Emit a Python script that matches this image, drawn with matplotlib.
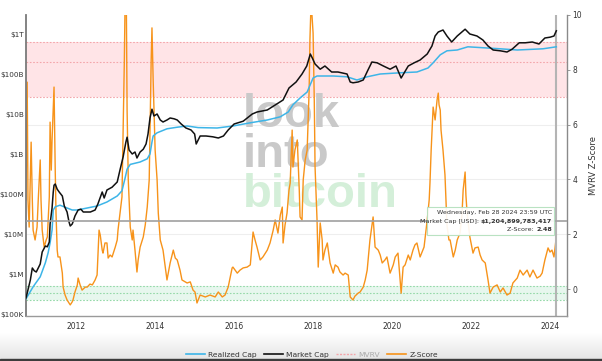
import numpy as np
import matplotlib
matplotlib.use("Agg")
import matplotlib.pyplot as plt
from matplotlib.patches import FancyBboxPatch, Rectangle
from matplotlib.lines import Line2D

# ---------------- data ----------------
market_cap_year = [2010.73, 2010.78, 2010.84, 2010.89, 2010.94, 2010.99, 2011.04, 2011.09, 2011.14, 2011.22,
                   2011.27, 2011.32, 2011.34, 2011.39, 2011.42, 2011.44, 2011.47, 2011.52, 2011.57, 2011.65,
                   2011.70, 2011.77, 2011.82, 2011.85, 2011.90, 2011.92, 2011.97, 2012.05, 2012.12, 2012.18,
                   2012.28, 2012.36, 2012.48, 2012.55, 2012.66, 2012.71, 2012.78, 2012.91, 2013.04, 2013.11,
                   2013.19, 2013.26, 2013.29, 2013.34, 2013.42, 2013.49, 2013.54, 2013.62, 2013.70, 2013.77,
                   2013.82, 2013.87, 2013.92, 2013.97, 2014.05, 2014.13, 2014.20, 2014.30, 2014.38, 2014.48,
                   2014.56, 2014.66, 2014.78, 2014.91, 2015.00, 2015.04, 2015.14, 2015.29, 2015.46, 2015.60,
                   2015.73, 2015.85, 2016.00, 2016.23, 2016.46, 2016.58, 2016.84, 2017.00, 2017.24, 2017.39,
                   2017.57, 2017.72, 2017.84, 2017.93, 2017.98, 2018.05, 2018.18, 2018.30, 2018.47, 2018.63,
                   2018.86, 2018.94, 2019.01, 2019.14, 2019.27, 2019.39, 2019.49, 2019.62, 2019.78, 2019.95,
                   2020.10, 2020.23, 2020.41, 2020.56, 2020.71, 2020.89, 2021.01, 2021.09, 2021.17, 2021.29,
                   2021.39, 2021.51, 2021.65, 2021.85, 2021.97, 2022.15, 2022.30, 2022.43, 2022.56, 2022.74,
                   2022.91, 2023.04, 2023.22, 2023.37, 2023.55, 2023.72, 2023.87, 2024.00, 2024.10, 2024.16]
market_cap_log10 = [5.40, 5.60, 5.85, 6.15, 6.08, 6.05, 6.15, 6.25, 6.55, 6.70,
                    6.68, 6.80, 7.25, 7.65, 8.05, 8.22, 8.25, 8.12, 8.05, 7.95,
                    7.70, 7.55, 7.30, 7.20, 7.25, 7.30, 7.45, 7.60, 7.62, 7.55,
                    7.55, 7.55, 7.60, 7.75, 8.05, 7.90, 8.10, 8.17, 8.30, 8.60,
                    8.93, 9.30, 9.42, 9.10, 9.00, 9.05, 8.90, 9.05, 9.12, 9.25,
                    9.50, 9.90, 10.12, 9.95, 10.00, 9.85, 9.80, 9.85, 9.90, 9.88,
                    9.85, 9.75, 9.65, 9.60, 9.50, 9.25, 9.45, 9.45, 9.43, 9.40,
                    9.45, 9.60, 9.75, 9.82, 10.00, 10.05, 10.10, 10.20, 10.35, 10.65,
                    10.80, 11.00, 11.20, 11.50, 11.40, 11.25, 11.12, 11.20, 11.05, 11.05,
                    11.00, 10.80, 10.78, 10.80, 10.85, 11.10, 11.30, 11.28, 11.20, 11.12,
                    11.20, 10.90, 11.20, 11.28, 11.35, 11.50, 11.70, 11.95, 12.05, 12.10,
                    11.95, 11.80, 11.95, 12.12, 12.00, 11.95, 11.85, 11.70, 11.60, 11.58,
                    11.55, 11.62, 11.78, 11.78, 11.80, 11.75, 11.90, 11.92, 11.95, 12.08]

realized_cap_year = [2010.73, 2010.91, 2011.09, 2011.22, 2011.29, 2011.34, 2011.39, 2011.42, 2011.47, 2011.59,
                     2011.77, 2011.90, 2012.03, 2012.28, 2012.53, 2012.78, 2013.04, 2013.16, 2013.24, 2013.29,
                     2013.37, 2013.62, 2013.80, 2013.87, 2013.92, 2013.95, 2014.05, 2014.30, 2014.56, 2014.81,
                     2015.09, 2015.57, 2015.97, 2016.41, 2016.84, 2017.17, 2017.37, 2017.49, 2017.67, 2017.85,
                     2018.00, 2018.10, 2018.51, 2018.86, 2019.11, 2019.37, 2019.70, 2020.20, 2020.63, 2020.91,
                     2021.04, 2021.22, 2021.39, 2021.65, 2021.92, 2022.41, 2022.74, 2023.17, 2023.82, 2024.16]
realized_cap_log10 = [5.38, 5.68, 5.93, 6.28, 6.53, 6.78, 7.10, 7.60, 7.68, 7.72,
                      7.65, 7.60, 7.60, 7.65, 7.70, 7.80, 7.95, 8.08, 8.40, 8.62,
                      8.74, 8.80, 8.88, 9.00, 9.30, 9.45, 9.53, 9.63, 9.67, 9.70,
                      9.66, 9.65, 9.70, 9.78, 9.85, 9.93, 10.05, 10.23, 10.40, 10.55,
                      10.90, 10.95, 10.95, 10.93, 10.85, 10.93, 11.00, 11.03, 11.05, 11.15,
                      11.28, 11.48, 11.58, 11.60, 11.68, 11.65, 11.63, 11.60, 11.63, 11.68]

zscore_year = [2010.73, 2010.76, 2010.78, 2010.81, 2010.86, 2010.89, 2010.91, 2010.96, 2011.01, 2011.04,
               2011.09, 2011.11, 2011.14, 2011.19, 2011.24, 2011.27, 2011.32, 2011.34, 2011.37, 2011.39,
               2011.44, 2011.47, 2011.49, 2011.52, 2011.54, 2011.59, 2011.65, 2011.67, 2011.72, 2011.77,
               2011.85, 2011.90, 2011.92, 2011.97, 2012.03, 2012.05, 2012.10, 2012.15, 2012.23, 2012.28,
               2012.35, 2012.41, 2012.48, 2012.53, 2012.58, 2012.61, 2012.66, 2012.68, 2012.73, 2012.78,
               2012.81, 2012.86, 2012.91, 2012.99, 2013.04, 2013.06, 2013.11, 2013.16, 2013.19, 2013.22,
               2013.24, 2013.27, 2013.29, 2013.32, 2013.37, 2013.42, 2013.44, 2013.49, 2013.54, 2013.57,
               2013.62, 2013.70, 2013.75, 2013.80, 2013.85, 2013.87, 2013.90, 2013.92, 2013.95, 2014.00,
               2014.05, 2014.08, 2014.13, 2014.20, 2014.25, 2014.30, 2014.38, 2014.46, 2014.51, 2014.56,
               2014.63, 2014.68, 2014.76, 2014.81, 2014.89, 2014.96, 2015.01, 2015.06, 2015.14, 2015.27,
               2015.39, 2015.52, 2015.60, 2015.70, 2015.77, 2015.85, 2015.95, 2015.97, 2016.08, 2016.15,
               2016.23, 2016.33, 2016.41, 2016.48, 2016.53, 2016.58, 2016.66, 2016.73, 2016.84, 2016.91,
               2016.99, 2017.04, 2017.11, 2017.17, 2017.22, 2017.24, 2017.29, 2017.34, 2017.39, 2017.42,
               2017.47, 2017.49, 2017.54, 2017.60, 2017.65, 2017.67, 2017.72, 2017.75, 2017.80, 2017.85,
               2017.87, 2017.90, 2017.92, 2017.95, 2017.98, 2018.00, 2018.03, 2018.05, 2018.10, 2018.13,
               2018.18, 2018.23, 2018.25, 2018.30, 2018.36, 2018.43, 2018.51, 2018.56, 2018.63, 2018.68,
               2018.76, 2018.81, 2018.89, 2018.94, 2019.01, 2019.06, 2019.14, 2019.19, 2019.27, 2019.32,
               2019.37, 2019.44, 2019.52, 2019.57, 2019.65, 2019.70, 2019.75, 2019.82, 2019.87, 2019.95,
               2020.03, 2020.08, 2020.15, 2020.23, 2020.28, 2020.33, 2020.41, 2020.46, 2020.53, 2020.58,
               2020.63, 2020.71, 2020.76, 2020.81, 2020.89, 2020.94, 2020.96, 2020.99, 2021.01, 2021.04,
               2021.09, 2021.14, 2021.17, 2021.19, 2021.22, 2021.24, 2021.29, 2021.34, 2021.39, 2021.44,
               2021.47, 2021.55, 2021.60, 2021.65, 2021.72, 2021.77, 2021.80, 2021.85, 2021.87, 2021.90,
               2021.97, 2022.05, 2022.10, 2022.18, 2022.23, 2022.28, 2022.36, 2022.43, 2022.48, 2022.56,
               2022.66, 2022.74, 2022.81, 2022.91, 2022.99, 2023.06, 2023.17, 2023.24, 2023.32, 2023.42,
               2023.49, 2023.57, 2023.67, 2023.75, 2023.80, 2023.87, 2023.95, 2024.00, 2024.05, 2024.10,
               2024.15, 2024.16]
zscore_value = [3.25, 7.55, 3.25, 2.26, 5.36, 3.25, 2.15, 1.79, 2.26, 3.25,
                4.71, 3.25, 2.15, 1.53, 1.79, 1.90, 3.36, 6.09, 4.34, 5.44,
                7.37, 4.34, 2.77, 1.42, 1.17, 1.17, 0.58, 0.07, -0.22, -0.40,
                -0.58, -0.47, -0.40, -0.11, 0.15, 0.40, 0.15, -0.04, 0.07, 0.07,
                0.18, 0.15, 0.33, 0.51, 2.15, 1.97, 1.42, 1.31, 1.68, 1.68,
                1.13, 1.24, 1.17, 1.53, 1.79, 2.15, 2.77, 3.36, 5.80, 8.30,
                10.6, 10.6, 6.53, 3.98, 2.26, 1.79, 2.15, 1.42, 0.62, 1.06,
                1.53, 1.90, 2.34, 2.99, 3.98, 5.80, 8.36, 9.53, 7.63, 5.07,
                3.98, 2.77, 1.79, 1.42, 0.88, 0.33, 0.95, 1.42, 1.13, 1.06,
                0.69, 0.33, 0.26, 0.22, 0.26, -0.04, -0.11, -0.51, -0.22, -0.29,
                -0.22, -0.29, -0.11, -0.29, -0.22, 0.07, 0.77, 0.80, 0.58, 0.69,
                0.77, 0.80, 0.88, 2.08, 1.79, 1.53, 1.06, 1.17, 1.42, 1.68,
                2.15, 2.52, 2.04, 2.70, 2.99, 1.68, 2.34, 2.77, 3.61, 3.87,
                5.80, 4.45, 5.07, 5.44, 3.61, 2.63, 2.52, 3.98, 4.71, 5.07,
                5.91, 7.26, 9.09, 10.5, 9.80, 9.34, 6.90, 4.45, 2.52, 0.80,
                2.41, 1.79, 1.06, 1.42, 1.68, 0.95, 0.58, 0.88, 0.80, 0.62,
                0.51, 0.58, 0.51, -0.29, -0.40, -0.26, -0.15, -0.11, 0.07, 0.33,
                0.69, 1.79, 2.63, 1.53, 1.42, 1.24, 0.95, 1.06, 1.17, 0.58,
                0.88, 1.17, 1.31, -0.15, 0.80, 0.88, 1.24, 1.06, 1.42, 1.61,
                1.68, 1.17, 1.35, 1.53, 2.52, 3.25, 3.87, 5.07, 5.69, 6.64,
                6.17, 6.90, 7.15, 6.72, 6.53, 5.80, 5.07, 4.16, 2.34, 1.79,
                1.79, 1.17, 1.42, 1.79, 2.04, 2.70, 3.61, 4.27, 3.43, 2.77,
                1.90, 1.31, 1.50, 1.53, 1.24, 1.06, 0.95, 0.33, -0.15, 0.07,
                0.15, -0.11, 0.04, -0.22, -0.15, 0.22, 0.40, 0.69, 0.51, 0.69,
                0.44, 0.69, 0.40, 0.47, 0.58, 1.06, 1.50, 1.35, 1.42, 1.17,
                1.79, 1.97]

cap_ticks = [1e5, 1e6, 1e7, 1e8, 1e9, 1e10, 1e11, 1e12]
cap_tick_labels = [r"\$100K", r"\$1M", r"\$10M", r"\$100M", r"\$1B", r"\$10B", r"\$100B", r"\$1T"]
year_ticks = [2012, 2014, 2016, 2018, 2020, 2022, 2024]
z_ticks = [0, 2, 4, 6, 8, 10]
red_band = (7.0, 9.0, 8.3)
green_band = (-0.4, 0.1, -0.15)
cursor_year = 2024.16
cursor_z = 2.48
tooltip_lines = ["Wednesday, Feb 28 2024 23:59 UTC",
                 ("Market Cap [USD]: ", r"\$1,204,899,783,417"),
                 ("Z-Score: ", "2.48")]

# ---------------- figure ----------------
plt.rcParams["font.family"] = ["DejaVu Sans"]
fig = plt.figure(figsize=(6.02, 3.61), dpi=100)
fig.patch.set_facecolor("white")

W, H = 602.0, 361.0
ax_z = fig.add_axes([26 / W, 1 - 316 / H, (567 - 26) / W, (316 - 15) / H])
ax_c = ax_z.twinx()

# bottom gradient strip
bg = fig.add_axes([0, 0, 1, 28 / H], zorder=-5)
grad = np.linspace(1.0, 0.89, 64).reshape(-1, 1)
bg.imshow(np.dstack([grad, grad, grad]), aspect="auto", extent=[0, 1, 0, 1])
bg.axis("off")
fig.add_artist(Rectangle((0, 0), 1, 2.2 / H, transform=fig.transFigure,
                         color="#3c3c3c", zorder=-4))

# z-score axis (behind)
ax_z.set_xlim(2010.73, 2024.43)
ax_z.set_ylim(-0.985, 10.0)
ax_z.axhspan(red_band[0], red_band[1], color="#ffe4e7", zorder=0.1, lw=0)
for v in red_band:
    ax_z.axhline(v, color="#f4a6ab", lw=0.8, ls=(0, (1.5, 1.5)), zorder=0.2)
ax_z.axhspan(green_band[0], green_band[1], color="#e7f7ee", zorder=0.1, lw=0)
for v in green_band:
    ax_z.axhline(v, color="#94d9a8", lw=0.8, ls=(0, (1.5, 1.5)), zorder=0.2)
for v in z_ticks[1:-1]:
    ax_z.axhline(v, color="#eeeeee", lw=0.8, zorder=0.05)

# watermark
wm = dict(fontsize=34, fontweight="bold", family=["Liberation Sans", "DejaVu Sans"],
          ha="left", va="baseline", zorder=0.3)
ax_z.text(2016.23, 5.91, "look", color="#c9c9c9", **wm)
ax_z.text(2016.23, 4.45, "into", color="#c9c9c9", **wm)
ax_z.text(2016.23, 2.99, "bitcoin", color="#d4efd9", **wm)

ax_z.plot(zscore_year, zscore_value, color="#f7931a", lw=1.0, zorder=2)
ax_z.axvline(cursor_year, color="#b4b4b4", lw=1.5, zorder=3)

ax_z.yaxis.tick_right()
ax_z.yaxis.set_label_position("right")
ax_z.set_yticks(z_ticks)
ax_z.set_yticklabels([str(t) for t in z_ticks])
ax_z.tick_params(axis="y", length=2, width=0.6, color="#888888", labelsize=5.5,
                 labelcolor="#333333", pad=2)
ax_z.set_xticks(year_ticks)
ax_z.set_xticklabels([str(y) for y in year_ticks])
ax_z.tick_params(axis="x", length=0, labelsize=5.5, labelcolor="#333333", pad=4)
ax_z.set_ylabel("MVRV Z-Score", fontsize=6, color="#333333", labelpad=5)
for s in ax_z.spines.values():
    s.set_visible(False)

# capital axis (front)
ax_c.set_yscale("log")
ax_c.plot(realized_cap_year, 10 ** np.array(realized_cap_log10), color="#3db5e8", lw=1.1, zorder=3)
ax_c.plot(market_cap_year, 10 ** np.array(market_cap_log10), color="#111111", lw=1.1, zorder=4)
ax_c.set_ylim(10 ** 4.95, 10 ** 12.475)
ax_c.yaxis.tick_left()
ax_c.yaxis.set_label_position("left")
ax_c.set_yticks(cap_ticks)
ax_c.set_yticklabels(cap_tick_labels)
ax_c.yaxis.set_minor_locator(matplotlib.ticker.NullLocator())
ax_c.tick_params(axis="y", length=0, labelsize=5.2, labelcolor="#333333", pad=1.5)
ax_c.spines["top"].set_visible(False)
ax_c.spines["left"].set_color("#7a7a7a")
ax_c.spines["left"].set_linewidth(1.3)
ax_c.spines["right"].set_color("#8a8a8a")
ax_c.spines["right"].set_linewidth(1.0)
ax_c.spines["bottom"].set_color("#9a9a9a")
ax_c.spines["bottom"].set_linewidth(1.0)

# crosshair and tooltip
ax_c.plot([2010.73, 2024.43], [cursor_z, cursor_z], transform=ax_z.transData,
          color="#a0a0a0", lw=1.2, zorder=5)
box = FancyBboxPatch((2020.89, 1.97), 3.21, 1.02, boxstyle="square,pad=0",
                     transform=ax_z.transData, facecolor="white", alpha=0.92,
                     edgecolor="#b3e0bd", lw=0.8, zorder=8)
ax_c.add_patch(box)
xr = 2024.05
tk = dict(fontsize=4.6, color="#333333", transform=ax_z.transData, zorder=9)
ax_c.text(xr, 2.78, tooltip_lines[0], ha="right", va="center", **tk)
for (lab, val), yv in zip(tooltip_lines[1:], [2.48, 2.18]):
    tb = ax_c.text(xr, yv, val, ha="right", va="center", fontweight="bold", **tk)
    ax_c.annotate(lab, xy=(0, 0.5), xycoords=tb, ha="right", va="center",
                  fontsize=4.6, color="#333333", zorder=9, annotation_clip=False)

# legend
handles = [Line2D([], [], color="#3db5e8", lw=1.2),
           Line2D([], [], color="#111111", lw=1.2),
           Line2D([], [], color="#f4a6ab", lw=1.0, ls=(0, (1.5, 1.0))),
           Line2D([], [], color="#f7931a", lw=1.2)]
labels = ["Realized Cap", "Market Cap", "MVRV", "Z-Score"]
leg = fig.legend(handles, labels, loc="center", bbox_to_anchor=(0.518, 1 - 354.5 / H),
                 ncol=4, frameon=False, fontsize=5.4, handlelength=2.6,
                 columnspacing=0.9, handletextpad=0.4)
for t, c in zip(leg.get_texts(), ["#333333", "#333333", "#aaaaaa", "#333333"]):
    t.set_color(c)

fig.savefig("out.png", dpi=100, facecolor="white")
